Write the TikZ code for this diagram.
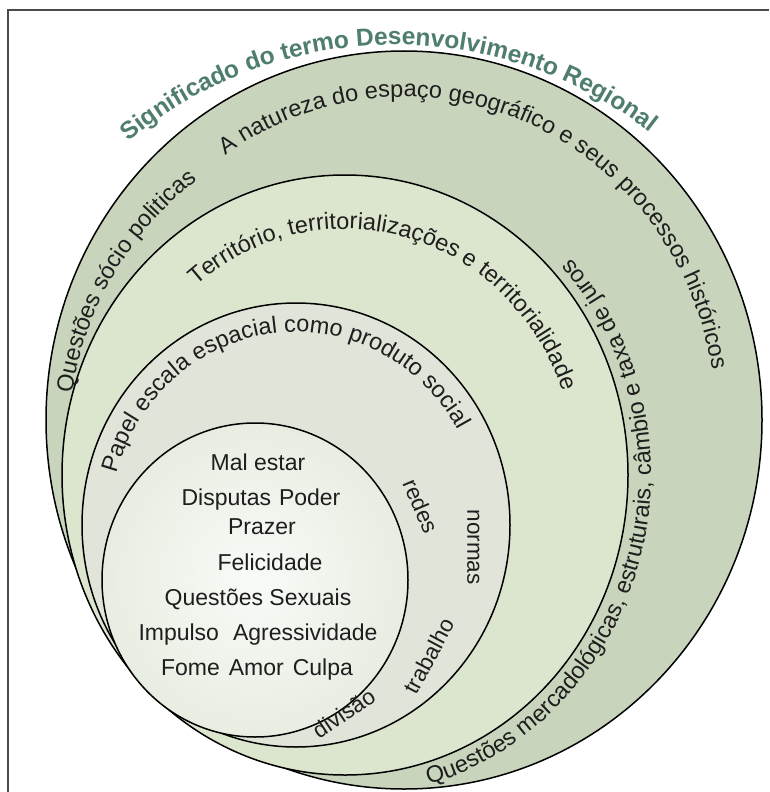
\documentclass[tikz,border=0pt]{standalone}
\usepackage{fontspec}
\setmainfont{Liberation Sans}
\usetikzlibrary{decorations.text}
\definecolor{ringA}{HTML}{C9D4BC}
\definecolor{ringB}{HTML}{DCE5CD}
\definecolor{ringC}{HTML}{E1E5D9}
\definecolor{coreIn}{HTML}{F9FBF7}
\definecolor{coreOut}{HTML}{E8EDE2}
\definecolor{titlecol}{HTML}{4F7D70}
\definecolor{framecol}{HTML}{4A4A4A}
\definecolor{inkcol}{HTML}{1E1E1E}
\begin{document}
\begin{tikzpicture}[x=1pt,y=1pt,
  ring/.style={draw=black, line width=1.5pt},
  curvtxt/.style={decorate, decoration={text along path, text align=center, text color=inkcol,
      text={|\fontsize{23.5}{27}\selectfont|#1}}},
  titletxt/.style={decorate, decoration={text along path, text align=center, text color=titlecol,
      text={|\fontsize{24.5}{29}\selectfont\bfseries|#1}}},
  word/.style={font=\fontsize{22.5}{26}\selectfont, text=inkcol, inner sep=0pt, text height=11.5pt, text depth=0pt},
  coretxt/.style={font=\fontsize{23}{27}\selectfont, text=inkcol, inner sep=0pt, text height=16.5pt, text depth=0pt}]
\useasboundingbox (0,0) rectangle (769,-792);
\fill[white] (0,0) rectangle (769,-792);
\draw[framecol, line width=1.4pt] (8,-792) -- (8,-10) -- (769,-10);

% nested ellipses
\draw[ring, fill=ringA] (404,-420) ellipse [x radius=358pt, y radius=369pt];
\draw[ring, fill=ringB] (345,-475) ellipse [x radius=283pt, y radius=300pt];
\draw[ring, fill=ringC] (296,-525) ellipse [x radius=214pt, y radius=222pt];
\draw[ring, shade, inner color=coreIn, outer color=coreOut] (255,-580) ellipse [x radius=153pt, y radius=157pt];

% title
\path[titletxt={Significado do termo Desenvolvimento Regional}]
  (395,-460) ++(140:415) arc[start angle=140, end angle=42, radius=415pt];

% curved labels
\path[curvtxt={A natureza do espaço geográfico e seus processos históricos}]
  (404,-420) ++({312*cos(132)},{323*sin(132)}) arc[start angle=132, end angle=2, x radius=312pt, y radius=323pt];
\path[curvtxt={Questões sócio politicas}]
  (404,-440) ++({335*cos(180)},{330*sin(180)}) arc[start angle=180, end angle=120, x radius=335pt, y radius=330pt];
\path[curvtxt={Território, territorializações e territorialidade}]
  (345,-475) ++({232*cos(142)},{246*sin(142)}) arc[start angle=142, end angle=8, x radius=232pt, y radius=246pt];
\path[curvtxt={Questões mercadológicas, estruturais, câmbio e taxa de juros}]
  (345,-475) ++({306*cos(-79)},{322*sin(-79)}) arc[start angle=-79, end angle=47, x radius=306pt, y radius=322pt];
\path[curvtxt={Papel escala espacial como produto social}]
  (296,-525) ++({186*cos(177)},{193*sin(177)}) arc[start angle=177, end angle=17, x radius=186pt, y radius=193pt];

% loose words
\node[word, rotate=-67] (redes) at (419,-507) {redes};
\node[word, rotate=-90] (normas) at (473,-547) {normas};
\node[word, rotate=62] (trabalho) at (431,-657) {trabalho};
\node[word, rotate=34] (divisao) at (345,-715) {divisão};

% core
\node[coretxt] (l1) at (258,-462) {Mal estar};
\node[coretxt] (l2) at (261,-497) {Disputas\hspace{8pt}Poder};
\node[coretxt] (l3) at (262,-526) {Prazer};
\node[coretxt] (l4) at (270,-562) {Felicidade};
\node[coretxt] (l5) at (258,-597) {Questões Sexuais};
\node[coretxt] (l6) at (258,-632) {Impulso\hspace{14pt}Agressividade};
\node[coretxt] (l7) at (257,-667) {Fome\hspace{9pt}Amor\hspace{9pt}Culpa};
\end{tikzpicture}
\end{document}
